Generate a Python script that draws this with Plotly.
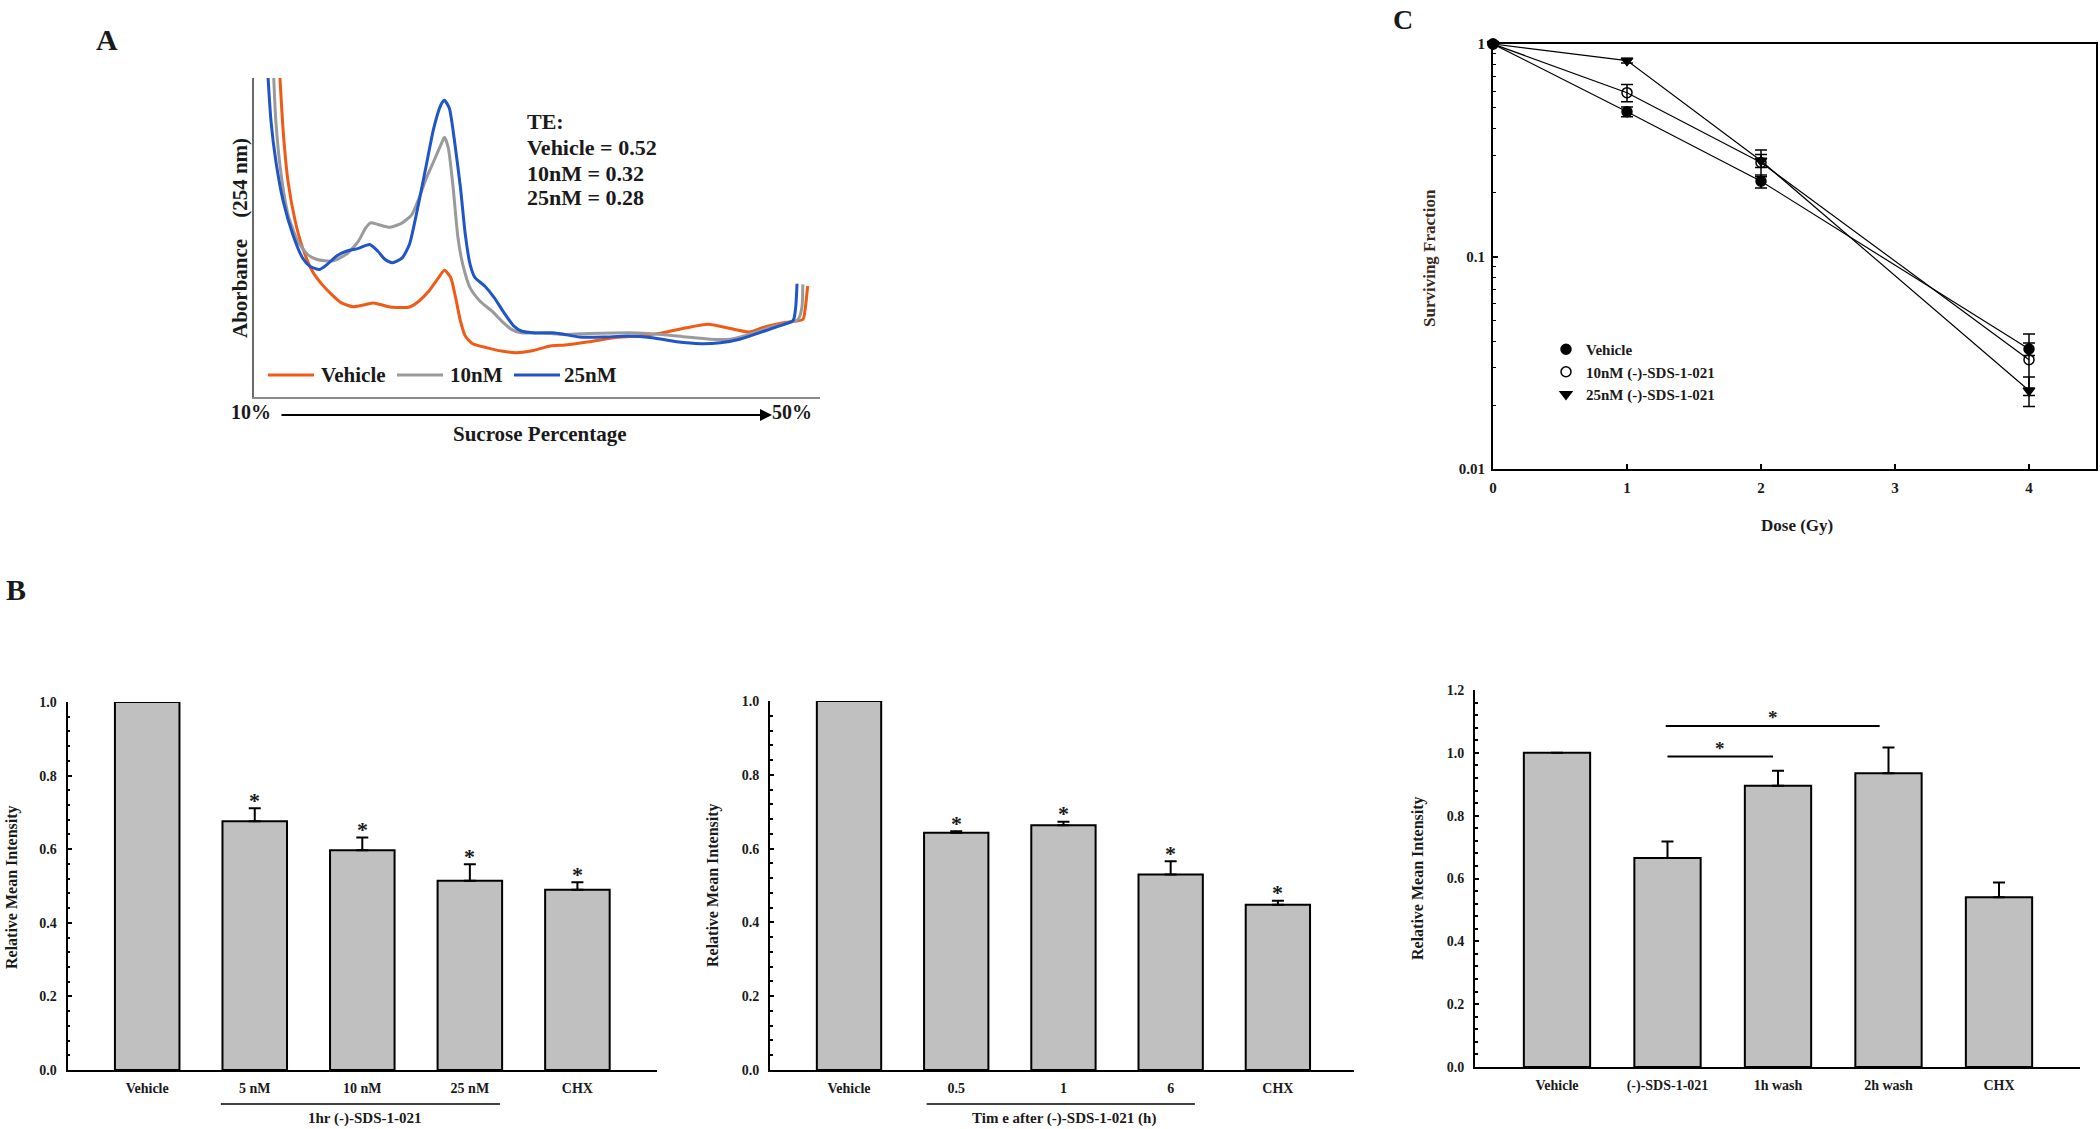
import plotly.graph_objects as go

W, H = 2100, 1129
FONT = "Liberation Serif"
TXT = "#1a1a1a"

def fx(px):
    return px / W

def fy(py):
    return 1 - py / H

# ---------------- Panel A data (sucrose gradient profile) ----------------
veh_x = [11.75, 12.11, 12.46, 12.98, 13.51, 14.21, 14.91, 15.62, 16.32, 17.19, 18.07, 18.60, 19.13, 19.83,
         21.23, 21.93, 22.64, 23.34, 23.76, 24.22, 24.57, 24.92, 25.27, 25.80, 26.85, 27.90, 28.95, 30.01,
         31.41, 32.46, 34.22, 35.97, 37.73, 39.48, 41.24, 42.82, 44.40, 45.80, 46.86, 48.26, 49.66, 49.84, 50.01]
veh_y = [1.10, 0.833, 0.676, 0.551, 0.468, 0.395, 0.353, 0.321, 0.295, 0.283, 0.290, 0.295, 0.290, 0.282,
         0.282, 0.301, 0.332, 0.374, 0.397, 0.374, 0.311, 0.238, 0.191, 0.167, 0.154, 0.144, 0.139, 0.144,
         0.160, 0.163, 0.173, 0.186, 0.191, 0.201, 0.217, 0.228, 0.215, 0.204, 0.219, 0.233, 0.243, 0.280, 0.348]

nm10_x = [11.33, 11.58, 11.93, 12.46, 13.16, 13.86, 14.56, 15.62, 16.67, 17.55, 18.07, 18.42, 18.95, 19.83,
          20.71, 21.41, 21.93, 22.46, 22.99, 23.51, 23.76, 24.04, 24.39, 24.74, 25.09, 25.62, 26.32, 27.20,
          27.90, 28.60, 29.31, 30.71, 32.46, 34.22, 35.97, 37.73, 39.48, 41.24, 42.99, 44.40, 45.80, 47.21,
          48.61, 49.31, 49.59, 49.66]
nm10_y = [1.10, 0.864, 0.708, 0.572, 0.489, 0.447, 0.431, 0.426, 0.447, 0.489, 0.530, 0.546, 0.541, 0.532,
          0.546, 0.572, 0.624, 0.687, 0.739, 0.791, 0.814, 0.781, 0.656, 0.499, 0.415, 0.342, 0.301, 0.269,
          0.238, 0.212, 0.201, 0.201, 0.196, 0.199, 0.201, 0.201, 0.196, 0.188, 0.181, 0.181, 0.196, 0.217,
          0.233, 0.243, 0.280, 0.353]

nm25_x = [10.88, 11.23, 11.58, 12.11, 12.81, 13.51, 14.04, 14.74, 15.27, 15.97, 16.67, 17.55, 18.35, 18.95,
          19.48, 20.00, 20.71, 21.23, 21.58, 21.93, 22.46, 22.99, 23.51, 23.76, 24.11, 24.46, 24.92, 25.27,
          25.62, 25.97, 26.67, 27.37, 28.07, 28.78, 29.31, 30.36, 31.76, 32.46, 33.52, 35.27, 37.03, 38.78,
          40.54, 42.29, 43.70, 45.10, 46.50, 47.91, 48.96, 49.14, 49.24]
nm25_y = [1.10, 0.864, 0.739, 0.614, 0.509, 0.436, 0.410, 0.400, 0.415, 0.442, 0.457, 0.466, 0.478, 0.457,
          0.431, 0.421, 0.436, 0.478, 0.541, 0.614, 0.729, 0.843, 0.916, 0.930, 0.906, 0.812, 0.656, 0.509,
          0.415, 0.374, 0.348, 0.311, 0.264, 0.222, 0.207, 0.201, 0.201, 0.196, 0.188, 0.188, 0.191, 0.186,
          0.173, 0.167, 0.170, 0.181, 0.201, 0.222, 0.240, 0.280, 0.355]

a_names = ["Vehicle", "10nM", "25nM"]
a_colors = ["#F05A14", "#9A9A9A", "#1F55C8"]
te_lines = ["TE:", "Vehicle = 0.52", "10nM = 0.32", "25nM = 0.28"]

# ---------------- Panel C data (clonogenic survival) ----------------
dose = [0, 1, 2, 4]
sf_vehicle = [1.0, 0.48, 0.226, 0.0367]
sf_vehicle_err = [0, 0.025, 0.016, 0.0025]
sf_10nm = [1.0, 0.59, 0.277, 0.0327]
sf_10nm_err = [0, 0.055, 0.040, 0.0105]
sf_25nm = [1.0, 0.835, 0.282, 0.0234]
sf_25nm_err = [0, 0.020, 0.020, 0.0037]
c_names = ["Vehicle", "10nM (-)-SDS-1-021", "25nM (-)-SDS-1-021"]

# ---------------- Panel B data (relative mean intensity) ----------------
b1_cats = ["Vehicle", "5 nM", "10 nM", "25 nM", "CHX"]
b1_vals = [1.0, 0.676, 0.597, 0.514, 0.490]
b1_err = [0, 0.035, 0.035, 0.045, 0.020]
b1_sig = [False, True, True, True, True]
b1_group = "1hr (-)-SDS-1-021"

b2_cats = ["Vehicle", "0.5", "1", "6", "CHX"]
b2_vals = [1.0, 0.643, 0.663, 0.530, 0.448]
b2_err = [0, 0.004, 0.010, 0.036, 0.011]
b2_sig = [False, True, True, True, True]
b2_group = "Tim e after (-)-SDS-1-021 (h)"

b3_cats = ["Vehicle", "(-)-SDS-1-021", "1h wash", "2h wash", "CHX"]
b3_vals = [1.0, 0.665, 0.895, 0.935, 0.540]
b3_err = [0, 0.053, 0.048, 0.082, 0.047]
# significance brackets: (x start, x end, y of line)
b3_brackets = [(0.984, 2.92, 1.0855), (1.0, 1.955, 0.988)]

fig = go.Figure()

# ---- Panel A traces ----
for xs, ys, name, col in zip([veh_x, nm10_x, nm25_x], [veh_y, nm10_y, nm25_y], a_names, a_colors):
    fig.add_trace(go.Scatter(x=xs, y=ys, mode="lines", name=name, showlegend=False,
                             line=dict(color=col, width=3, shape="spline", smoothing=0.6),
                             xaxis="x", yaxis="y"))

# ---- Panel C traces ----
c_sets = [(sf_vehicle, sf_vehicle_err, "circle"),
          (sf_10nm, sf_10nm_err, "circle-open"),
          (sf_25nm, sf_25nm_err, "triangle-down")]
for (vals, err, sym), nm in zip(c_sets, c_names):
    fig.add_trace(go.Scatter(x=dose, y=vals, mode="lines+markers", showlegend=False,
                             line=dict(color="black", width=1.2),
                             marker=dict(symbol=sym, size=10, color="black",
                                         line=dict(color="black", width=1.5)),
                             error_y=dict(type="data", array=err, color="black", thickness=1.5, width=6),
                             cliponaxis=False, xaxis="x2", yaxis="y2"))
for (vals, err, sym), nm in zip(c_sets, c_names):
    fig.add_trace(go.Scatter(x=[None], y=[None], mode="markers", name=nm,
                             marker=dict(symbol=sym, size=10, color="black",
                                         line=dict(color="black", width=1.5)),
                             xaxis="x2", yaxis="y2", legend="legend2"))

# ---- Panel B traces ----
for cats, vals, err, xa, ya in [(b1_cats, b1_vals, b1_err, "x3", "y3"),
                                (b2_cats, b2_vals, b2_err, "x4", "y4"),
                                (b3_cats, b3_vals, b3_err, "x5", "y5")]:
    fig.add_trace(go.Bar(x=cats, y=vals, width=0.6, showlegend=False,
                         marker=dict(color="#C0C0C0", line=dict(color="black", width=2)),
                         error_y=dict(type="data", array=err, arrayminus=[0] * len(err), symmetric=False,
                                      color="black", thickness=2, width=6),
                         cliponaxis=False, xaxis=xa, yaxis=ya))

tickf = dict(family=FONT, size=14, color=TXT, weight="bold")
plain_axis = dict(showgrid=False, zeroline=False, showticklabels=False, ticks="")

bx = dict(type="category", showgrid=False, zeroline=False, showline=True, linecolor="black", linewidth=2,
          ticks="", tickfont=tickf, ticklabelstandoff=4)
by = dict(showgrid=False, zeroline=False, showline=True, linecolor="black", linewidth=2,
          ticks="inside", ticklen=4, tickwidth=1.5, tickcolor="black", tickfont=tickf,
          ticklabelstandoff=6,
          minor=dict(ticks="inside", ticklen=2.5, tickwidth=1.5, tickcolor="black", dtick=0.04))

fig.update_layout(
    width=W, height=H, margin=dict(l=0, r=0, t=0, b=0, autoexpand=False),
    paper_bgcolor="white", plot_bgcolor="white",
    font=dict(family=FONT, color=TXT),
    xaxis=dict(domain=[fx(254), fx(820)], range=[10, 50.9], showline=True, linecolor="#8a8a8a",
               linewidth=1.5, anchor="y", automargin=False, **plain_axis),
    yaxis=dict(domain=[fy(397), fy(78)], range=[0, 1.0], showline=True, linecolor="#6a6a6a",
               linewidth=1.5, anchor="x", automargin=False, **plain_axis),
    xaxis2=dict(domain=[fx(1493), fx(2096)], range=[0, 4.5], anchor="y2", showline=True, mirror=True,
                linecolor="black", linewidth=2, showgrid=False, zeroline=False, automargin=False,
                tickvals=[0, 1, 2, 3, 4], ticks="inside", ticklen=5, tickwidth=1.5, tickcolor="black",
                tickfont=dict(family=FONT, size=15, color=TXT, weight="bold"), ticklabelstandoff=4),
    yaxis2=dict(domain=[fy(469), fy(44)], type="log", range=[-2, 0], anchor="x2", showline=True,
                mirror=True, linecolor="black", linewidth=2, showgrid=False, zeroline=False, automargin=False,
                tickvals=[0.01, 0.1, 1], ticktext=["0.01", "0.1", "1"], ticks="inside", ticklen=5,
                tickwidth=1.5, tickcolor="black",
                tickfont=dict(family=FONT, size=15, color=TXT, weight="bold"), ticklabelstandoff=3,
                minor=dict(ticks="inside", ticklen=3, tickwidth=1.2, tickcolor="black",
                           tickvals=[k * 10 ** e for e in (-2, -1) for k in range(2, 10)])),
    xaxis3=dict(domain=[fx(67.6), fx(657)], range=[-0.74, 4.74], anchor="y3", automargin=False, **bx),
    yaxis3=dict(domain=[fy(1070), fy(702)], range=[0, 1.0], anchor="x3", dtick=0.2, tickformat=".1f",
                automargin=False, **by),
    xaxis4=dict(domain=[fx(770), fx(1354)], range=[-0.737, 4.71], anchor="y4", automargin=False, **bx),
    yaxis4=dict(domain=[fy(1070), fy(701)], range=[0, 1.0], anchor="x4", dtick=0.2, tickformat=".1f",
                automargin=False, **by),
    xaxis5=dict(domain=[fx(1475), fx(2080)], range=[-0.742, 4.733], anchor="y5", automargin=False, **bx),
    yaxis5=dict(domain=[fy(1067), fy(690)], range=[0, 1.2], anchor="x5", dtick=0.2, tickformat=".1f",
                automargin=False, **by),
    legend2=dict(x=fx(1546), y=fy(333), xanchor="left", yanchor="top",
                 font=dict(family=FONT, size=15, color=TXT, weight="bold"), bgcolor="rgba(0,0,0,0)",
                 tracegroupgap=0, itemwidth=30),
)

ann = []

def text(x, y, s, size, xanchor="center", yanchor="middle", angle=0, xref="paper", yref="paper",
         color=TXT, yshift=0):
    ann.append(dict(x=x, y=y, xref=xref, yref=yref, text=s, showarrow=False, xanchor=xanchor,
                    yanchor=yanchor, textangle=angle, yshift=yshift,
                    font=dict(family=FONT, size=size, color=color, weight="bold")))

# Panel letters
text(fx(107), fy(40), "A", 30)
text(fx(16), fy(589), "B", 30)
text(fx(1403), fy(20), "C", 28)

# Panel A texts
for i, s in enumerate(te_lines):
    text(29.6, [0.864, 0.783, 0.702, 0.624][i], s, 22, xanchor="left", xref="x", yref="y")
text(fx(251), fy(412), "10%", 20)
text(fx(792), fy(412), "50%", 20)
text(fx(540), fy(434), "Sucrose Percentage", 21)
text(fx(240), fy(238), "Aborbance\u00a0\u00a0\u00a0\u00a0(254 nm)", 21, angle=-90)
ann.append(dict(x=fx(772), y=fy(415), xref="paper", yref="paper", axref="pixel", ayref="pixel",
                ax=-492, ay=0, showarrow=True, arrowhead=2, arrowsize=1.2, arrowwidth=2,
                arrowcolor="black", text=""))

# Panel A legend (drawn as line samples + labels)
leg_line_px = [(268, 314), (397, 443), (514, 560)]
leg_text_px = [319, 448, 562]
shapes = []
for (l0, l1), tx, nm, col in zip(leg_line_px, leg_text_px, a_names, a_colors):
    shapes.append(dict(type="line", xref="paper", yref="paper", x0=fx(l0), x1=fx(l1), y0=fy(375), y1=fy(375),
                       line=dict(color=col, width=3)))
    text(fx(tx), fy(375), nm, 21, xanchor="left")

# Panel C axis titles
text(fx(1429), fy(258), "Surviving Fraction", 17, angle=-90, color="#3a2818")
text(fx(1797), fy(525), "Dose (Gy)", 17)

# Panel B axis titles and group labels
text(fx(12), fy(887), "Relative Mean Intensity", 16, angle=-90)
text(fx(713), fy(885), "Relative Mean Intensity", 16, angle=-90)
text(fx(1418), fy(878), "Relative Mean Intensity", 16, angle=-90)
text(fx(364.6), fy(1118), b1_group, 15)
text(fx(1064), fy(1118), b2_group, 15)

# Stars (placed by category index)
for vals, err, sig, xa, ya in [(b1_vals, b1_err, b1_sig, "x3", "y3"),
                               (b2_vals, b2_err, b2_sig, "x4", "y4")]:
    for i, (v, e, s) in enumerate(zip(vals, err, sig)):
        if s:
            text(i, v + e, "*", 22, xref=xa, yref=ya, yshift=8)
for x0, x1, yl in b3_brackets:
    text((x0 + x1) / 2, yl, "*", 19, xref="x5", yref="y5", yshift=8)

fig.update_layout(annotations=ann)

shapes.append(dict(type="line", xref="x3", yref="paper", x0=0.685, x1=3.28, y0=fy(1104), y1=fy(1104),
                   line=dict(color="black", width=1.5)))
shapes.append(dict(type="line", xref="x4", yref="paper", x0=0.724, x1=3.226, y0=fy(1104), y1=fy(1104),
                   line=dict(color="black", width=1.5)))
for x0, x1, yl in b3_brackets:
    shapes.append(dict(type="line", xref="x5", yref="y5", x0=x0, x1=x1, y0=yl, y1=yl,
                       line=dict(color="black", width=2)))
fig.update_layout(shapes=shapes)

fig.write_html("out.html", config={"displayModeBar": False},
               post_script="document.body.style.margin='0';document.body.style.overflow='hidden';")
